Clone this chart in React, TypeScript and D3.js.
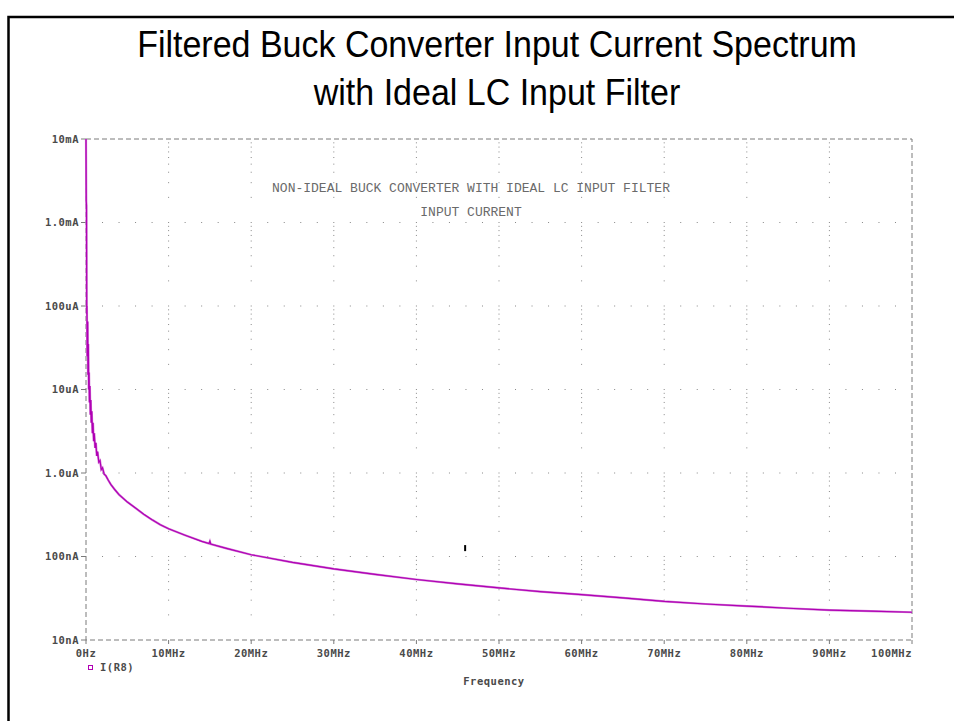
import React from "react";
import * as d3 from "d3";

// ---- data ----
const freqMHz: number[] = [
  0, 0.03, 0.06, 0.09, 0.11, 0.13, 0.15, 0.2, 0.24, 0.28, 0.33, 0.37, 0.42, 0.47,
  0.53, 0.58, 0.64, 0.7, 0.78, 0.85, 0.93, 1.0, 1.1, 1.2, 1.3, 1.4, 1.55, 1.7,
  1.85, 2.0, 2.2, 2.4, 2.7, 3.0, 3.5, 4.0, 5.0, 6.0, 7.0, 8.0, 9.0, 10, 12, 14,
  14.9, 15.0, 15.1, 17, 20, 25, 30, 35, 40, 45, 50, 55, 60, 65, 70, 75, 80, 85,
  90, 95, 100,
];
const currentA: number[] = [
  1e-2, 1.8e-3, 1.6e-3, 8e-5, 1.0e-4, 5e-5, 2.5e-5, 6.5e-5, 1.5e-5, 3.5e-5, 1.0e-5,
  1.6e-5, 7e-6, 1.1e-5, 5e-6, 7.5e-6, 4e-6, 5.5e-6, 3e-6, 4e-6, 2.4e-6, 3e-6, 2e-6,
  2.3e-6, 1.6e-6, 1.8e-6, 1.35e-6, 1.4e-6, 1.1e-6, 1.15e-6, 0.97e-6, 0.93e-6,
  0.82e-6, 0.73e-6, 0.63e-6, 0.55e-6, 0.45e-6, 0.38e-6, 0.32e-6, 0.275e-6,
  0.24e-6, 0.215e-6, 0.18e-6, 0.152e-6, 0.143e-6, 0.152e-6, 0.141e-6, 0.125e-6,
  0.105e-6, 0.085e-6, 0.071e-6, 0.061e-6, 0.053e-6, 0.047e-6, 0.042e-6,
  0.038e-6, 0.035e-6, 0.032e-6, 0.029e-6, 0.027e-6, 0.0255e-6, 0.024e-6,
  0.0228e-6, 0.0222e-6, 0.0215e-6,
];
const xTickValues: number[] = [0, 10, 20, 30, 40, 50, 60, 70, 80, 90, 100];
const xTickLabels: string[] = ["0Hz", "10MHz", "20MHz", "30MHz", "40MHz", "50MHz", "60MHz", "70MHz", "80MHz", "90MHz", "100MHz"];
const yTickValues: number[] = [1e-8, 1e-7, 1e-6, 1e-5, 1e-4, 1e-3, 1e-2];
const yTickLabels: string[] = ["10nA", "100nA", "1.0uA", "10uA", "100uA", "1.0mA", "10mA"];
const titleLines: string[] = ["Filtered Buck Converter Input Current Spectrum", "with Ideal LC Input Filter"];
const annotationLines: string[] = ["NON-IDEAL BUCK CONVERTER WITH IDEAL LC INPUT FILTER", "INPUT CURRENT"];
const legendLabel = "I(R8)";
const xAxisLabel = "Frequency";
// cursor marker seen on the plot (MHz, A range)
const cursorMark = { f: 45.9, lo: 1.16e-7, hi: 1.37e-7 };

const W = 954;
const H = 721;
const M = { left: 86, right: 912, top: 139, bottom: 640 };

export default function App() {
  const x = d3.scaleLinear().domain([0, 100]).range([M.left, M.right]);
  const y = d3.scaleLog().domain([1e-8, 1e-2]).range([M.bottom, M.top]);

  const pts: [number, number][] = freqMHz.map((f, i) => [f, currentA[i]]);
  const line = d3
    .line<[number, number]>()
    .x((d) => x(d[0]))
    .y((d) => y(d[1]));

  const minorX = d3.range(2, 100, 2);
  const minorY: number[] = [];
  for (let e = -8; e < -2; e++) for (let k = 2; k <= 9; k++) minorY.push(k * Math.pow(10, e));

  const axisColor = "#7a7a7a";
  const labelColor = "#4a4a4a";
  const monoBold = {
    fontFamily: "'DejaVu Sans Mono', monospace",
    fontWeight: 700,
    fontSize: 10.5,
    letterSpacing: 0.5,
  } as const;

  return (
    <svg width={W} height={H} style={{ position: "absolute", left: 0, top: 0, background: "#fff" }}>
      <rect x={0} y={0} width={W} height={H} fill="#fff" />
      {/* page frame */}
      <path d={`M8.5,${H + 5} V17 H${W + 5}`} fill="none" stroke="#000" strokeWidth={2.5} />

      {/* title */}
      {titleLines.map((t, i) => (
        <text
          key={t}
          x={497}
          y={0}
          transform={`translate(0,${57 + i * 48}) scale(1,1.08)`}
          textAnchor="middle"
          fontFamily="'Liberation Sans', Arial, sans-serif"
          fontSize={34}
          fill="#000"
        >
          {t}
        </text>
      ))}

      {/* grid dots: horizontal major lines dotted at minor x positions */}
      {yTickValues.slice(1, -1).map((v) =>
        minorX.map((f) => (
          <rect key={`h${v}-${f}`} x={x(f) - 0.5} y={y(v) - 0.5} width={1} height={1} fill="#888" />
        ))
      )}
      {/* vertical major lines dotted at minor y positions */}
      {xTickValues.slice(1, -1).map((f) =>
        minorY.map((v) => (
          <rect key={`v${f}-${v}`} x={x(f) - 0.5} y={y(v) - 0.5} width={1} height={1} fill="#888" />
        ))
      )}

      {/* plot box (dashed) */}
      <rect x={M.left} y={M.top} width={M.right - M.left} height={M.bottom - M.top} fill="none" stroke={axisColor} strokeWidth={1} strokeDasharray="5,3" />

      {/* y ticks + labels */}
      {yTickValues.map((v, i) => (
        <g key={`yt${v}`}>
          <line x1={M.left - 5} x2={M.left} y1={y(v)} y2={y(v)} stroke={axisColor} strokeWidth={1} />
          <text x={M.left - 7} y={y(v) + 3.5} textAnchor="end" {...monoBold} fill={labelColor}>
            {yTickLabels[i]}
          </text>
        </g>
      ))}
      {/* x ticks + labels */}
      {xTickValues.map((f, i) => (
        <g key={`xt${f}`}>
          <line x1={x(f)} x2={x(f)} y1={M.bottom} y2={M.bottom + 4} stroke={axisColor} strokeWidth={1} />
          <text x={x(f)} y={M.bottom + 17} textAnchor={i === xTickValues.length - 1 ? "end" : "middle"} {...monoBold} fill={labelColor}>
            {xTickLabels[i]}
          </text>
        </g>
      ))}

      {/* annotation */}
      {annotationLines.map((t, i) => (
        <text key={t} x={471} y={192 + i * 24} textAnchor="middle" fontFamily="'Liberation Mono', monospace" fontSize={13} fill="#6a6a6a">
          {t}
        </text>
      ))}

      {/* data */}
      <path d={line(pts) ?? ""} fill="none" stroke="#d27ad6" strokeWidth={2.2} />
      <path d={line(pts) ?? ""} fill="none" stroke="#b000b4" strokeWidth={1.2} />

      {/* cursor mark */}
      <line x1={x(cursorMark.f)} x2={x(cursorMark.f)} y1={y(cursorMark.lo)} y2={y(cursorMark.hi)} stroke="#000" strokeWidth={2} />

      {/* legend */}
      <rect x={88.5} y={665.5} width={4} height={4} fill="none" stroke="#b000b4" strokeWidth={1} />
      <text x={100} y={671} {...monoBold} fill={labelColor}>
        {legendLabel}
      </text>
      <text x={494} y={684.5} textAnchor="middle" {...monoBold} fill={labelColor}>
        {xAxisLabel}
      </text>
    </svg>
  );
}
